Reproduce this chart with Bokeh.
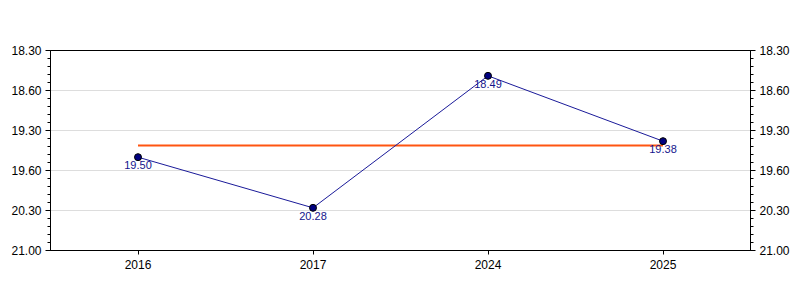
from bokeh.plotting import figure
from bokeh.models import Range1d, FixedTicker, LinearAxis, ColumnDataSource, LabelSet
from bokeh.core.properties import value
from bokeh.embed import file_html
from bokeh.resources import INLINE

years = ["2016", "2017", "2024", "2025"]
# times in seconds (mm.ss labels)
seconds = [1190, 1228, 1129, 1178]
point_labels = ["19.50", "20.28", "18.49", "19.38"]
tick_values = [1110, 1140, 1170, 1200, 1230, 1260]
tick_labels = ["18.30", "18.60", "19.30", "19.60", "20.30", "21.00"]

avg = sum(seconds) / len(seconds)

p = figure(width=800, height=300, x_range=years, y_range=Range1d(1260, 1110),
           output_backend="svg", toolbar_location=None,
           min_border_left=50, min_border_right=50, min_border_top=50, min_border_bottom=50)
p.background_fill_color = "white"
p.border_fill_color = "white"
p.outline_line_color = "black"
p.outline_line_width = 1
p.outline_line_alpha = 1
p.x_range.range_padding = 0

minors = [v for v in range(1110, 1261, 6)]
ticker = FixedTicker(ticks=tick_values, minor_ticks=minors)
overrides = {v: l for v, l in zip(tick_values, tick_labels)}

def style_y(ax):
    ax.ticker = ticker
    ax.major_label_overrides = overrides
    ax.axis_line_color = "black"
    ax.major_tick_line_color = "black"
    ax.minor_tick_line_color = "black"
    ax.major_tick_out = 5
    ax.major_tick_in = 0
    ax.minor_tick_out = 3
    ax.minor_tick_in = 0
    ax.major_label_text_font = "Liberation Sans"
    ax.major_label_text_font_size = "12px"
    ax.major_label_text_color = "black"
    ax.major_label_standoff = 4

style_y(p.yaxis[0])
ra = LinearAxis()
style_y(ra)
p.add_layout(ra, "right")

xa = p.xaxis[0]
xa.axis_line_color = "black"
xa.major_tick_line_color = "black"
xa.major_tick_out = 4
xa.major_tick_in = 0
xa.major_label_text_font = "Liberation Sans"
xa.major_label_text_font_size = "12px"
xa.major_label_text_color = "black"
xa.major_label_standoff = 5

p.xgrid.grid_line_color = None
p.ygrid.grid_line_color = "#dddddd"
p.ygrid.ticker = ticker

src = ColumnDataSource(dict(x=years, y=seconds, lab=point_labels))
p.line([years[0], years[-1]], [avg, avg], line_color="#ff5511", line_width=2)
p.line("x", "y", source=src, line_color="#1a1a99", line_width=1)
p.scatter("x", "y", source=src, size=7, fill_color="#000080", line_color="black", line_width=1)
labels = LabelSet(x="x", y="y", text="lab", source=src, text_align="center", text_baseline="top",
                  y_offset=-4, text_font=value("Liberation Sans"), text_font_size="11px",
                  text_color="#14148c")
p.add_layout(labels)

open("out.html", "w").write(file_html(p, INLINE))
